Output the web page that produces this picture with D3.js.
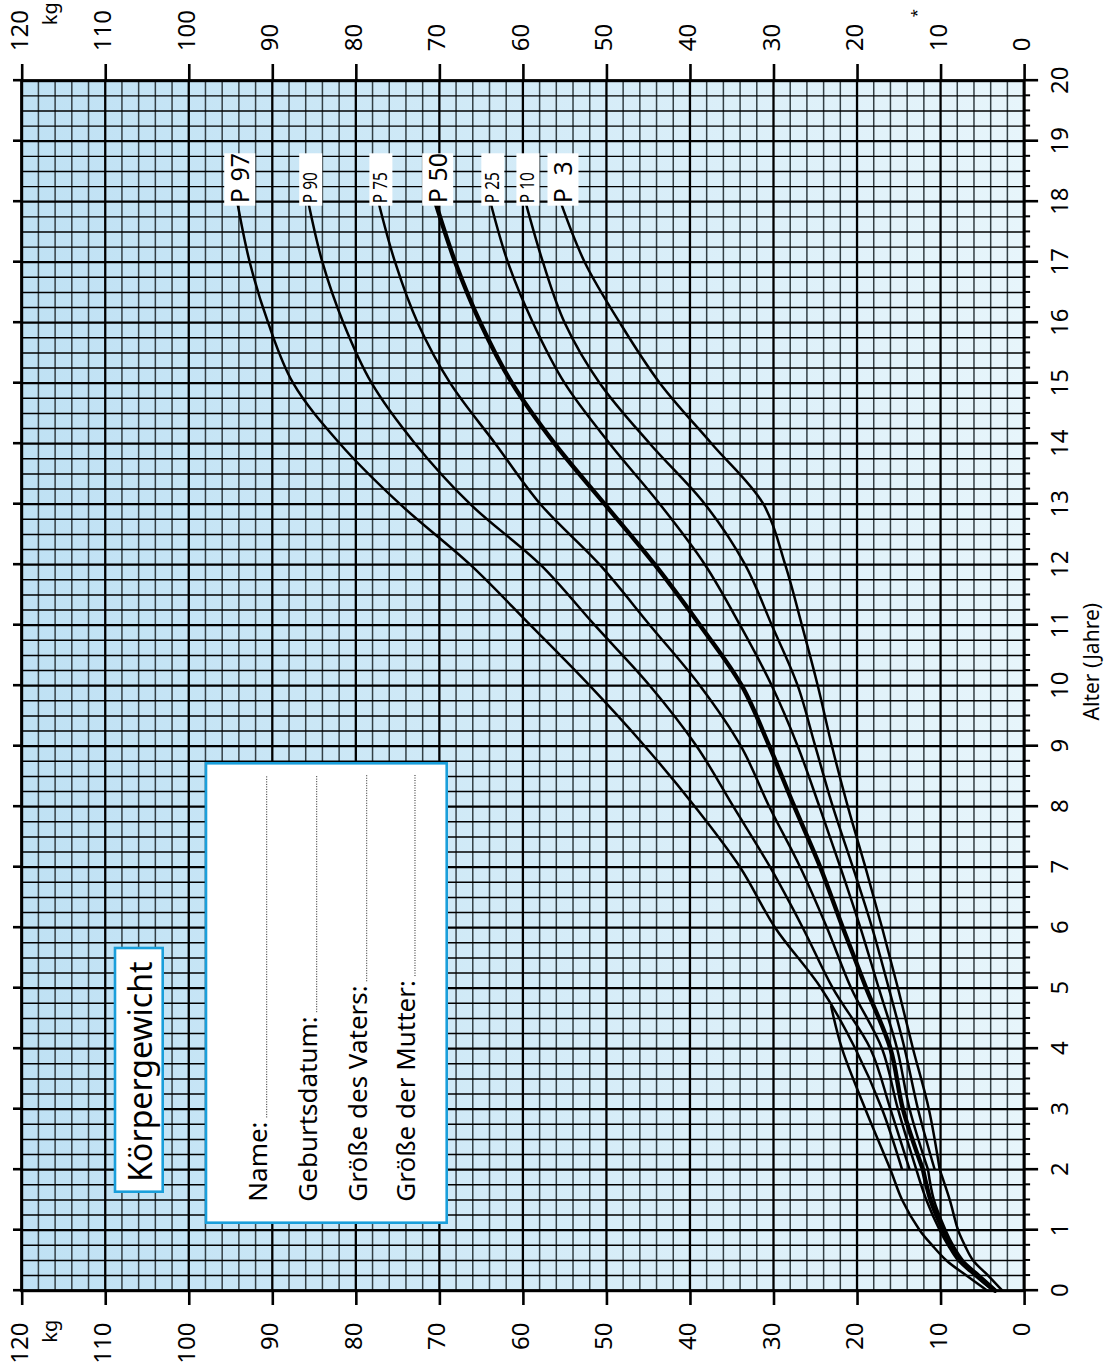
<!DOCTYPE html>
<html>
<head>
<meta charset="utf-8">
<script src="https://cdn.jsdelivr.net/npm/d3@7"></script>
<style>
  body { margin: 0; background: #fff; }
  svg { display: block; }
  text { font-family: "Noto Sans", sans-serif; fill: #000; }
</style>
</head>
<body>
<div id="chart"></div>
<script>
// percentile curves from age 2 to 18 (kg)
const ages = [2, 3, 4, 5, 6, 7, 8, 9, 10, 11, 12, 13, 14, 15, 16, 17, 18];
const p97 = [14.6, 17.0, 20.2, 24.3, 29.8, 34.0, 39.4, 45.4, 52.0, 59.1, 66.3, 74.7, 81.9, 87.5, 90.5, 92.7, 94.2];
const p90 = [13.7, 16.0, 18.4, 22.9, 26.5, 30.4, 34.8, 39.2, 44.8, 51.4, 57.9, 66.3, 72.9, 78.1, 81.5, 84.0, 85.7];
const p75 = [12.9, 15.1, 17.0, 20.7, 23.6, 26.8, 30.5, 33.9, 38.8, 44.8, 50.8, 57.9, 63.3, 68.7, 72.6, 75.3, 77.3];
const p50 = [12.1, 14.5, 16.0, 18.9, 21.7, 24.4, 27.5, 30.5, 33.8, 38.8, 44.2, 50.2, 56.2, 61.3, 65.1, 68.1, 70.5];
const p25 = [11.5, 13.7, 15.2, 17.4, 19.6, 22.0, 24.5, 27.1, 30.2, 34.0, 38.2, 43.6, 49.6, 55.0, 58.8, 61.8, 63.9];
const p10 = [10.7, 12.7, 14.3, 16.2, 18.2, 20.5, 22.9, 25.0, 27.1, 30.2, 33.4, 38.2, 44.8, 50.8, 55.0, 57.6, 59.7];
const p3 = [10.1, 11.4, 13.3, 15.1, 17.0, 19.0, 21.1, 23.0, 24.7, 26.6, 28.6, 31.2, 37.4, 43.6, 48.4, 52.6, 55.5];

// infant curves, 0 to 2 years
const infantAges = [0, 0.25, 0.5, 0.75, 1, 1.5, 2];
const infantP75 = [3.7, 5.9, 7.9, 9.1, 10.1, 11.7, 12.9];
const infantP50 = [3.5, 5.6, 7.6, 8.8, 9.7, 11.2, 12.1];
const infantP25 = [3.3, 5.3, 7.3, 8.5, 9.4, 10.8, 11.5];
const infantP3 = [2.6, 4.3, 6.1, 7.1, 7.9, 8.9, 10.1];
const infantP97Ages = [0, 0.25, 0.5, 0.75, 1, 1.5, 2, 3, 4, 4.7];
const infantP97 = [4.4, 6.9, 9.3, 11.0, 12.5, 14.6, 16.0, 19.0, 21.8, 23.1];

const percentileNames = ['P 97', 'P 90', 'P 75', 'P 50', 'P 25', 'P 10', 'P\u20023'];
const bigLabel = [true, false, false, true, false, false, true];
const ageTicks = d3.range(0, 21);
const weightTicks = d3.range(0, 121, 10);
const formLines = ['Name:', 'Geburtsdatum:', 'Größe des Vaters:', 'Größe der Mutter:'];

const width = 1113, height = 1366;
const left = 21.7, bottom = 1290.7;
const W = 1210, H = 1002.4;
const blue = '#1a9fdb';

const svg = d3.select('#chart').append('svg')
  .attr('width', width).attr('height', height);

const grad = svg.append('defs').append('linearGradient')
  .attr('id', 'bg').attr('x1', 0).attr('x2', 1).attr('y1', 0).attr('y2', 0);
grad.append('stop').attr('offset', 0).attr('stop-color', '#bfe1f4');
grad.append('stop').attr('offset', 1).attr('stop-color', '#e7f5fb');

svg.append('rect')
  .attr('x', left).attr('y', bottom - W)
  .attr('width', H).attr('height', W)
  .attr('fill', 'url(#bg)');

// chart drawn as age (x) vs weight (y), then turned a quarter left
const g = svg.append('g').attr('transform', `translate(${left},${bottom}) rotate(-90)`);

const x = d3.scaleLinear().domain([0, 20]).range([0, W]);
const y = d3.scaleLinear().domain([0, 120]).range([H, 0]);

// grid
const grid = g.append('g');
grid.selectAll('line.w')
  .data(d3.range(0, 121, 2))
  .join('line')
  .attr('x1', 0).attr('x2', W)
  .attr('y1', (d) => y(d)).attr('y2', (d) => y(d))
  .attr('stroke', (d) => (d % 10 === 0 ? '#000' : '#333f44'))
  .attr('stroke-width', (d) => (d % 10 === 0 ? 2.3 : 1.5));
grid.selectAll('line.a')
  .data(d3.range(0, 81).map((i) => i / 4))
  .join('line')
  .attr('x1', (d) => x(d)).attr('x2', (d) => x(d))
  .attr('y1', 0).attr('y2', H)
  .attr('stroke', '#000')
  .attr('stroke-width', (d) => (d % 1 === 0 ? 2.3 : 1.4));

g.append('rect')
  .attr('x', 0).attr('y', 0).attr('width', W).attr('height', H)
  .attr('fill', 'none').attr('stroke', '#000').attr('stroke-width', 3);

// axes
const styleAxis = (sel, fontSize) => {
  sel.select('.domain').remove();
  sel.selectAll('line').attr('stroke', '#000').attr('stroke-width', 2.6);
  sel.attr('font-family', null).attr('font-size', fontSize);
  sel.selectAll('text').attr('fill', '#000');
};

g.append('g')
  .attr('transform', `translate(0,${H})`)
  .call(d3.axisBottom(x).tickValues(d3.range(0, 81).filter((i) => i % 4).map((i) => i / 4))
    .tickSize(6).tickFormat(''))
  .call((s) => styleAxis(s, 23))
  .selectAll('line').attr('stroke-width', 2);

g.append('g')
  .attr('transform', `translate(0,${H})`)
  .call(d3.axisBottom(x).tickValues(ageTicks).tickSize(14).tickPadding(13))
  .call((s) => styleAxis(s, 24));

g.append('g')
  .call(d3.axisTop(x).tickValues(ageTicks).tickSize(8.7).tickFormat(''))
  .call((s) => styleAxis(s, 23));

g.append('g')
  .call(d3.axisLeft(y).tickValues(weightTicks).tickSize(14.3).tickPadding(17.5))
  .call((s) => styleAxis(s, 24))
  .selectAll('text').attr('dy', 5.5);

g.append('g')
  .attr('transform', `translate(${W},0)`)
  .call(d3.axisRight(y).tickValues(weightTicks).tickSize(16.7).tickPadding(12.8))
  .call((s) => styleAxis(s, 24))
  .selectAll('text').attr('dy', 5.5);

g.append('text').attr('x', -29).attr('y', y(120) + 35)
  .attr('text-anchor', 'end').attr('font-size', 20).text('kg');
g.append('text').attr('x', W + 55.5).attr('y', y(120) + 35)
  .attr('text-anchor', 'start').attr('font-size', 20).text('kg');

g.append('text').attr('x', 629).attr('y', H + 75)
  .attr('text-anchor', 'middle').attr('font-size', 21).text('Alter (Jahre)');

g.append('text').attr('x', W + 67.7).attr('y', y(0) - 102)
  .attr('text-anchor', 'middle').attr('font-size', 15).text('*');

// curves
const line = (xs) => d3.line()
  .x((d, i) => x(xs[i]))
  .y((d) => y(d))
  .curve(d3.curveCatmullRom.alpha(0.5));

const series = [p97, p90, p75, p50, p25, p10, p3];
const infant = [
  { ages: infantP97Ages, values: infantP97, thick: false },
  { ages: infantAges, values: infantP75, thick: false },
  { ages: infantAges, values: infantP25, thick: false },
  { ages: infantAges, values: infantP3, thick: false },
  { ages: infantAges, values: infantP50, thick: true },
];

g.append('g').selectAll('path')
  .data(infant)
  .join('path')
  .attr('d', (d) => line(d.ages)(d.values))
  .attr('fill', 'none').attr('stroke', '#000')
  .attr('stroke-width', (d) => (d.thick ? 4.4 : 2.5))
  .attr('stroke-linecap', 'round');

g.append('g').selectAll('path')
  .data(series)
  .join('path')
  .attr('d', (d) => line(ages)(d))
  .attr('fill', 'none').attr('stroke', '#000')
  .attr('stroke-width', (d, i) => (i === 3 ? 4.4 : 2.5))
  .attr('stroke-linecap', 'butt');

// percentile labels
const labels = g.append('g').selectAll('g')
  .data(series)
  .join('g');
labels.each(function (d, i) {
  const big = bigLabel[i];
  const w = big ? 31 : 23;
  const c = y(d[d.length - 1]) + 2.5;
  const sel = d3.select(this);
  sel.append('rect')
    .attr('x', 1085).attr('y', c - w / 2)
    .attr('width', 52.4).attr('height', w)
    .attr('fill', '#fff');
  const t = sel.append('text')
    .attr('x', 1087.5)
    .attr('y', c + w / 2 - (big ? 6 : 5))
    .attr('font-size', big ? 25 : 19)
    .text(percentileNames[i]);
  if (!big) t.attr('textLength', 31).attr('lengthAdjust', 'spacingAndGlyphs');
});

// title box
g.append('rect')
  .attr('x', 99).attr('y', 93.3).attr('width', 243.7).attr('height', 47.7)
  .attr('fill', '#fff').attr('stroke', blue).attr('stroke-width', 2.6);
g.append('text').attr('x', 109).attr('y', 130.6)
  .attr('font-size', 32).text('Körpergewicht');

// form box
g.append('rect')
  .attr('x', 68).attr('y', 184.3).attr('width', 459.4).attr('height', 240.7)
  .attr('fill', '#fff').attr('stroke', blue).attr('stroke-width', 2.6);
const formBase = [245, 295, 345, 393.3];
formLines.forEach((label, i) => {
  const t = g.append('text').attr('x', 89).attr('y', formBase[i])
    .attr('font-size', 26).text(label);
  const end = 89 + t.node().getComputedTextLength() + 4;
  g.append('line')
    .attr('x1', end).attr('x2', 515.7)
    .attr('y1', formBase[i]).attr('y2', formBase[i])
    .attr('stroke', '#222').attr('stroke-width', 1)
    .attr('stroke-dasharray', '1,1.5');
});
</script>
</body>
</html>
